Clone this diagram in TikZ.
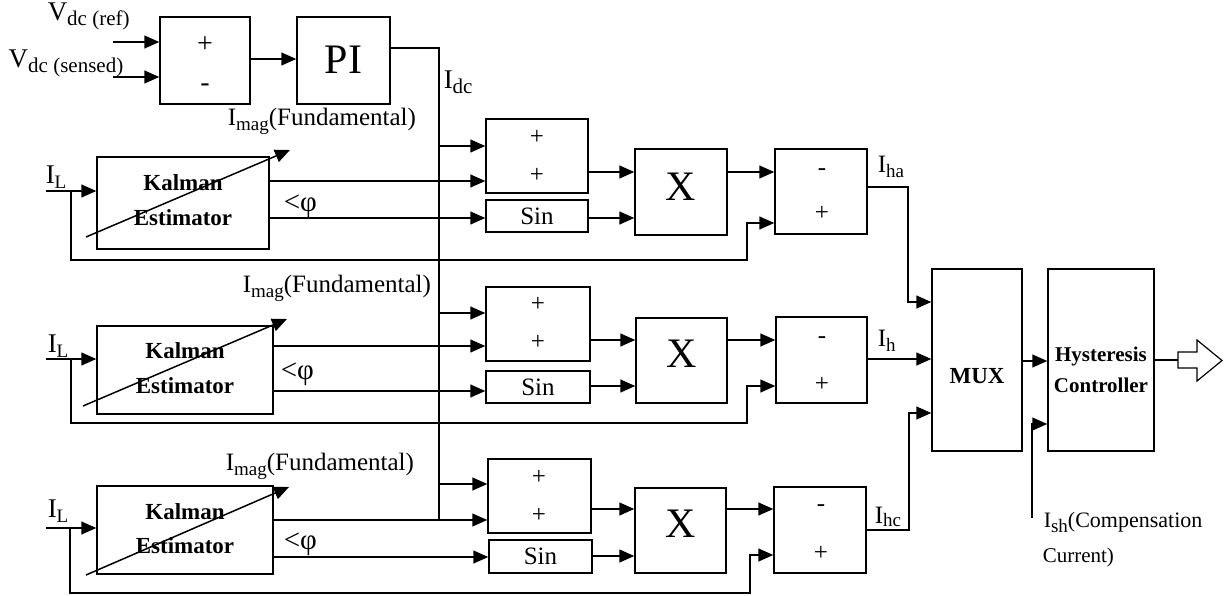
\documentclass[tikz,border=0pt]{standalone}
\usepackage{fontspec}
\setmainfont{Liberation Serif}
\usetikzlibrary{arrows.meta}
\newcommand\fs[1]{\fontsize{#1}{#1}\selectfont}
\newcommand\sbs[1]{\raisebox{-5pt}{\fs{19}#1}}
\begin{document}
\begin{tikzpicture}[x=1pt,y=-1pt,line width=1.5pt,
  bx/.style 2 args={draw,line width=1.5pt,inner sep=0pt,minimum width=#1,minimum height=#2},
  arr/.style={-{Triangle[length=15pt,width=13pt]}},
  lab/.style={font=\fs{25},inner sep=0pt,anchor=base west},
  sg/.style={font=\fs{25},inner sep=0pt},
  bigx/.style={font=\fs{42},inner sep=0pt},
  kal/.style={font=\bfseries\fs{23},inner sep=0pt,anchor=base}]
\useasboundingbox (0,0) rectangle (1227,595);
% ---------- top: sum and PI ----------
\node[bx={90pt}{87pt}] (sum) at (205,60.5) {};
\node[sg,font=\fs{28}] (sump) at (205,45) {+};
\node[sg,font=\fs{28}] (summ) at (205,88) {-};
\node[bx={93pt}{87pt}] (pi) at (343.5,60.5) {};
\node[font=\fs{42},inner sep=0pt] (pit) at (343.5,60) {PI};
\node[lab,font=\fs{27}] (vref) at (47,20) {V\raisebox{-5pt}{\fs{21}dc (ref)}};
\node[lab,font=\fs{27}] (vsen) at (8,67) {V\raisebox{-5pt}{\fs{21}dc (sensed)}};
\coordinate (vin1) at (113,42);
\coordinate (vin2) at (113,77);
\draw[arr] (vin1) -- (sum.west |- vin1);
\draw[arr] (vin2) -- (sum.west |- vin2);
\draw[arr] (sum.east |- 0,59) -- (pi.west |- 0,59);
\coordinate (b0) at (439,48);
\coordinate (bend) at (439,520);
\draw (pi.east |- b0) -- (b0) -- (bend);
\node[lab,font=\fs{27}] (idc) at (443,88) {I\raisebox{-5pt}{\fs{21}dc}};
% ---------- row 1 ----------
\node[bx={172pt}{92pt}] (k1) at (183,203) {};
\node[kal] (k1a) at (183,190) {Kalman};
\node[kal] (k1b) at (183,225) {Estimator};
\draw[arr] ([shift={(-97,34)}]k1.center) -- ([shift={(107,-53)}]k1.center);
\node[lab,font=\fs{27}] (il1t) at (45,183) {I\sbs{L}};
\node[lab] (im1) at (227,125) {I\sbs{mag}(Fundamental)};
\node[lab,font=\fs{29}] (ph1) at (283,211) {<φ};
\node[bx={102pt}{74pt}] (add1) at (537,156) {};
\node[sg] (add1p) at (537,137) {+};
\node[sg] (add1q) at (537,175) {+};
\node[bx={102pt}{32pt},font=\fs{25}] (sin1) at (537,216) {Sin};
\node[bx={92pt}{86pt}] (mul1) at (681,192) {};
\node[bigx] (mul1x) at (681,187) {X};
\node[bx={92pt}{85pt}] (sub1) at (821,191.5) {};
\node[sg] (sub1m) at (822,172) {-};
\node[sg] (sub1p) at (822,213) {+};
\node[lab] (iha) at (877,172) {I\sbs{ha}};
\coordinate (il1) at (46,191);
\coordinate (fb1) at (71,191);
\coordinate (br1) at (439,146);
\draw[arr] (il1) -- (k1.west |- il1);
\draw[arr] (fb1) -- (71,260) -- (747,260) -- (747,223) -- (sub1.west |- 0,223);
\draw[arr] (br1) -- (add1.west |- br1);
\draw[arr] (k1.east |- 0,181) -- (add1.west |- 0,181);
\draw[arr] (k1.east |- 0,218) -- (sin1.west |- 0,218);
\draw[arr] (add1.east |- 0,172) -- (mul1.west |- 0,172);
\draw[arr] (sin1.east |- 0,218) -- (mul1.west |- 0,218);
\draw[arr] (mul1.east |- 0,172) -- (sub1.west |- 0,172);
% ---------- row 2 ----------
\node[bx={176pt}{88pt}] (k2) at (185,370) {};
\node[kal] (k2a) at (185,358) {Kalman};
\node[kal] (k2b) at (185,393) {Estimator};
\draw[arr] ([shift={(-102,36)}]k2.center) -- ([shift={(102,-51)}]k2.center);
\node[lab,font=\fs{27}] (il2t) at (47,352) {I\sbs{L}};
\node[lab] (im2) at (242,292) {I\sbs{mag}(Fundamental)};
\node[lab,font=\fs{29}] (ph2) at (280,379) {<φ};
\node[bx={104pt}{74pt}] (add2) at (538,324) {};
\node[sg] (add2p) at (538,304) {+};
\node[sg] (add2q) at (538,342) {+};
\node[bx={104pt}{32pt},font=\fs{25}] (sin2) at (538,387) {Sin};
\node[bx={91pt}{85pt}] (mul2) at (681.5,360.5) {};
\node[bigx] (mul2x) at (681.5,354) {X};
\node[bx={91pt}{86pt}] (sub2) at (821.5,360) {};
\node[sg] (sub2m) at (822,340) {-};
\node[sg] (sub2p) at (822,384) {+};
\node[lab] (ih) at (877,346) {I\sbs{h}};
\coordinate (il2) at (46,359);
\coordinate (fb2) at (71,359);
\coordinate (br2) at (439,313);
\draw[arr] (il2) -- (k2.west |- il2);
\draw[arr] (fb2) -- (71,423) -- (747,423) -- (747,386) -- (sub2.west |- 0,386);
\draw[arr] (br2) -- (add2.west |- br2);
\draw[arr] (k2.east |- 0,346) -- (add2.west |- 0,346);
\draw[arr] (k2.east |- 0,391) -- (sin2.west |- 0,391);
\draw[arr] (add2.east |- 0,340) -- (mul2.west |- 0,340);
\draw[arr] (sin2.east |- 0,386) -- (mul2.west |- 0,386);
\draw[arr] (mul2.east |- 0,340) -- (sub2.west |- 0,340);
% ---------- row 3 ----------
\node[bx={176pt}{88pt}] (k3) at (185,530) {};
\node[kal] (k3a) at (185,519) {Kalman};
\node[kal] (k3b) at (185,553) {Estimator};
\draw[arr] ([shift={(-99,45)}]k3.center) -- ([shift={(104,-43)}]k3.center);
\node[lab,font=\fs{27}] (il3t) at (47,517) {I\sbs{L}};
\node[lab] (im3) at (225,470) {I\sbs{mag}(Fundamental)};
\node[lab,font=\fs{29}] (ph3) at (283,549) {<φ};
\node[bx={103pt}{74pt}] (add3) at (539.5,496) {};
\node[sg] (add3p) at (539,477) {+};
\node[sg] (add3q) at (539,515) {+};
\node[bx={103pt}{33pt},font=\fs{25}] (sin3) at (540.5,556.5) {Sin};
\node[bx={91pt}{85pt}] (mul3) at (680.5,530.5) {};
\node[bigx] (mul3x) at (681,524) {X};
\node[bx={92pt}{86pt}] (sub3) at (820,530) {};
\node[sg] (sub3m) at (821,508) {-};
\node[sg] (sub3p) at (821,553) {+};
\node[lab] (ihc) at (874,523) {I\raisebox{-3pt}{\fs{19}hc}};
\coordinate (il3) at (46,528);
\coordinate (fb3) at (70,528);
\coordinate (br3) at (439,484);
\draw[arr] (il3) -- (k3.west |- il3);
\draw[arr] (fb3) -- (70,593) -- (750,593) -- (750,555) -- (sub3.west |- 0,555);
\draw[arr] (br3) -- (add3.west |- br3);
\draw[arr] (k3.east |- 0,520) -- (add3.west |- 0,520);
\draw[arr] (k3.east |- 0,557) -- (sin3.west |- 0,557);
\draw[arr] (add3.east |- 0,509) -- (mul3.west |- 0,509);
\draw[arr] (sin3.east |- 0,556) -- (mul3.west |- 0,556);
\draw[arr] (mul3.east |- 0,509) -- (sub3.west |- 0,509);
% ---------- MUX and hysteresis ----------
\node[bx={90pt}{182pt}] (mux) at (977,360) {};
\node[kal,font=\bfseries\fs{23}] (muxt) at (977,383) {MUX};
\node[bx={106pt}{182pt}] (hy) at (1101,360) {};
\node[kal,font=\bfseries\fs{21}] (hy1) at (1101,361) {Hysteresis};
\node[kal,font=\bfseries\fs{21}] (hy2) at (1101,392) {Controller};
\draw[arr] (sub1.east |- 0,187) -- (908,187) -- (908,302) -- (mux.west |- 0,302);
\draw[arr] (sub2.east |- 0,359) -- (mux.west |- 0,359);
\draw[arr] (sub3.east |- 0,530) -- (909,530) -- (909,413) -- (mux.west |- 0,413);
\draw[arr] (mux.east |- 0,361) -- (hy.west |- 0,361);
\coordinate (ish) at (1032,518);
\draw[arr] (ish) |- (hy.west |- 0,424);
\node[lab,font=\fs{22}] (isht) at (1043,527) {I\sbs{sh}(Compensation};
\node[lab,font=\fs{21}] (ishc) at (1042,562) {Current)};
\coordinate (hout) at (1178,360);
\draw (hy.east |- hout) -- (hout);
\draw[line width=1.2pt,fill=white] (1178,352) -- (1197,352) -- (1197,340) -- (1222,360.5) -- (1197,381) -- (1197,368) -- (1178,368) -- cycle;
\end{tikzpicture}
\end{document}
